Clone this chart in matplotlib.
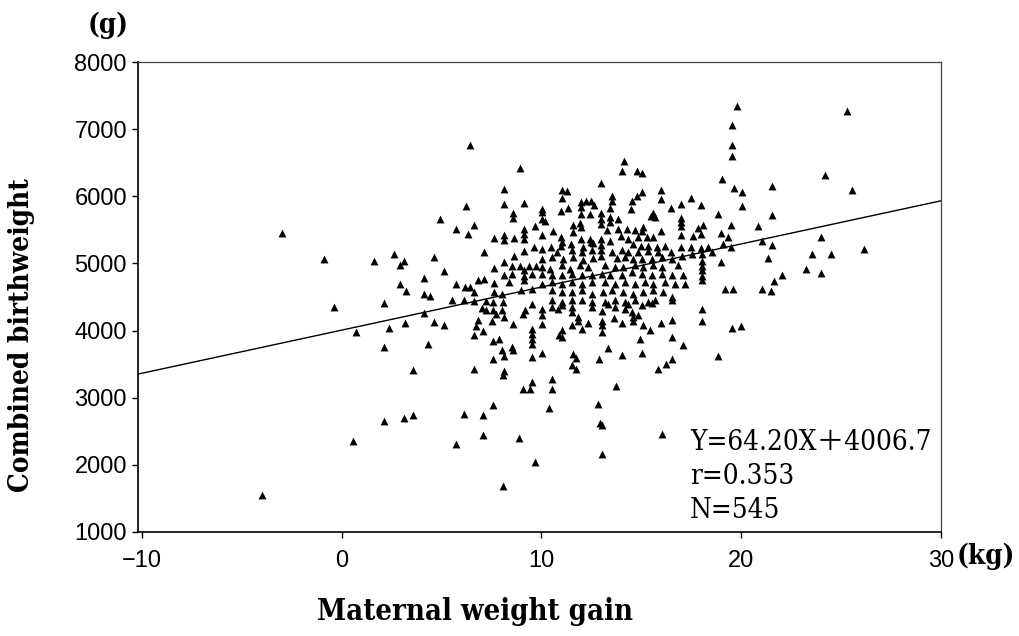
import matplotlib
matplotlib.use("Agg")
import matplotlib.pyplot as plt

# ---------------- data ----------------
weight_gain = [
    -3.0, -0.9, -0.4, -4.0,
    6.4, 8.9, 8.1, 8.1, 9.1, 6.2, 8.55, 8.55, 4.9, 5.7, 6.6, 6.3, 9.65, 9.1, 9.1, 9.1,
    8.1, 8.1, 7.6, 8.6, 9.6, 9.1, 7.1, 8.6, 4.6, 2.6, 1.6, 3.1, 2.9, 8.1, 8.5, 8.9,
    9.35, 9.7, 7.6, 5.1, 9.1, 9.1, 9.1, 8.1, 8.5, 9.5, 4.1, 8.35, 7.6, 5.7, 2.9, 6.8,
    7.1, 6.15, 6.4, 6.6, 8.95, 9.5, 3.2, 4.1, 4.4, 7.6, 8.0, 2.1, 5.5, 6.1, 6.6, 7.2,
    7.55, 8.05, 9.5,
    7.0, 7.2, 7.55, 8.0, 7.7, 8.1, 9.15, 9.05, 4.1, 0.7, 2.35, 3.15, 4.6, 5.1, 6.8,
    6.7, 7.5, 8.55, 7.05, 6.6, 9.5, 9.5, 9.5, 9.5, 2.1, 4.3, 7.55, 7.85, 8.0, 8.1,
    8.5, 8.55, 7.55, 9.5, 3.55, 6.6, 8.1, 8.05, 9.5, 9.05, 9.4, 7.55, 6.1, 7.05, 3.55,
    3.1, 2.1, 0.55, 5.7, 7.05, 8.85, 9.65, 8.05,
    19.55, 19.55, 19.55, 14.15, 14.05, 14.8, 15.05, 19.05, 13.0, 19.65, 11.05, 11.27,
    11.05, 15.05, 14.8, 14.55, 16.0, 16.0, 13.55, 13.55, 17.5, 12.0, 12.23, 12.5,
    12.65, 12.0, 17.0, 18.0, 16.5, 14.5, 10.05, 10.05, 11.0, 11.35, 13.43, 13.0,
    12.43, 12.0, 15.6, 15.7, 15.5, 18.85, 10.05, 10.2, 13.0, 13.43, 13.85, 13.0,
    13.43, 17.0, 17.0, 17.0, 11.93, 12.0, 11.6, 17.85, 18.1, 19.5, 10.6, 10.05,
    13.27, 13.85, 14.27, 14.68, 15.1, 15.02, 16.0, 11.6, 17.0, 17.6, 18.0, 19.0,
    19.35, 11.0, 11.05, 12.0, 12.43, 13.43, 12.6, 14.0, 14.35, 14.85, 15.27, 15.6,
    13.0, 13.0, 13.0, 13.0, 10.05, 10.5, 11.0, 11.5, 12.1, 12.5, 14.6, 15.0, 15.35,
    15.77, 16.18, 16.5, 17.0, 17.5, 18.0, 18.35, 19.1, 19.5,
    10.77, 11.52, 12.02, 12.52, 13.52, 14.02, 14.35, 14.85, 15.35, 15.85,
    10.05, 10.52, 11.1, 11.6, 12.1, 12.6, 13.77, 14.18, 14.6, 15.02, 15.52, 16.02,
    16.52, 17.02, 17.52, 18.52, 18.02,
    19.0, 18.02, 18.02, 18.02, 18.02, 18.02,
    10.05, 10.43, 11.02, 11.43, 11.93, 12.35, 13.18, 13.68, 14.1, 14.68, 15.1, 15.6,
    16.02, 16.85,
    10.05, 10.52, 11.02, 11.52, 12.02, 12.52, 13.02, 13.43, 14.02, 14.52, 15.02,
    15.52, 16.02, 16.52, 17.1,
    10.05, 10.52, 11.02, 11.52, 12.02, 12.52, 13.18, 13.68, 14.18, 14.68, 15.18,
    15.6, 16.18, 16.68, 17.18,
    10.52, 11.02, 11.52, 12.02, 12.52, 13.1, 13.52, 14.1, 14.6, 15.1, 15.6, 16.1, 16.52,
    19.18, 19.6,
    10.52, 11.02, 12.02, 12.52, 13.18, 13.68, 14.18, 14.68, 15.35, 15.68,
    16.52, 11.52, 14.35, 13.35, 11.52, 12.52, 13.68,
    10.05, 10.05, 10.05, 10.52, 10.85, 11.02, 11.52, 11.82, 11.82, 11.52, 12.02,
    12.35, 11.02, 10.88, 11.02, 13.02, 13.02, 13.02, 13.02, 13.65, 14.02, 14.18,
    14.52, 14.6, 14.6, 14.85, 15.1, 15.02, 15.52, 15.43, 14.93, 15.98, 16.52, 16.52,
    18.05, 18.05, 19.52, 17.1, 13.32, 10.05, 11.6, 11.72, 11.52, 11.72, 12.9, 14.02,
    15.02, 16.52, 16.22, 15.82, 18.82, 10.52, 10.52, 13.72, 10.4, 12.82, 12.93,
    13.02, 13.02, 16.02,
    19.8, 25.27, 24.18, 25.55, 21.55, 20.05, 20.05, 21.55, 20.85, 21.05, 21.55,
    23.98, 23.52, 24.48, 26.15, 21.35, 23.22, 23.98, 22.02, 21.65, 21.02, 21.48,
    19.98,
]

birthweight = [
    5450, 5070, 4350, 1550,
    6765, 6418, 6110, 5887, 5902, 5862, 5749, 5679, 5664, 5520, 5575, 5441, 5555, 5515, 5441, 5366,
    5430, 5356, 5377, 5377, 5252, 5183, 5177, 5109, 5094, 5147, 5043, 5043, 4984, 5019, 4969, 4969,
    4969, 4969, 4930, 4880, 4895, 4820, 4746, 4835, 4845, 4845, 4786, 4722, 4712, 4701, 4692, 4752,
    4771, 4647, 4647, 4573, 4597, 4622, 4588, 4538, 4508, 4573, 4548, 4414, 4448, 4448, 4433, 4433,
    4420, 4420, 4399,
    4335, 4300, 4300, 4300, 4250, 4201, 4300, 4250, 4265, 3978, 4037, 4116, 4127, 4077, 4151,
    4067, 4136, 4101, 3987, 3927, 4027, 3953, 3878, 3804, 3755, 3804, 3838, 3878, 3704, 3621,
    3755, 3704, 3581, 3606, 3417, 3421, 3392, 3343, 3234, 3134, 3134, 2896, 2762, 2747, 2747,
    2698, 2648, 2350, 2316, 2440, 2400, 2043, 1681,
    7063, 6765, 6606, 6531, 6374, 6374, 6344, 6259, 6200, 6121, 6100, 6085,
    5972, 6070, 6002, 5936, 6100, 5961, 6002, 5936, 5976, 5912, 5936, 5936,
    5872, 5847, 5887, 5872, 5823, 5813, 5813, 5763, 5788, 5823, 5823, 5753,
    5738, 5738, 5753, 5689, 5704, 5738, 5664, 5639, 5664, 5689, 5664, 5590,
    5615, 5674, 5615, 5555, 5604, 5540, 5575, 5525, 5575, 5575, 5490, 5426,
    5505, 5515, 5515, 5505, 5540, 5490, 5490, 5466, 5426, 5406, 5441, 5456,
    5392, 5392, 5317, 5366, 5366, 5341, 5307, 5406, 5366, 5392, 5392, 5392,
    5366, 5277, 5193, 5118, 5217, 5242, 5267, 5292, 5242, 5326, 5292, 5267, 5257,
    5242, 5267, 5168, 5242, 5242, 5228, 5242, 5292, 5242,
    5168, 5193, 5168, 5193, 5168, 5193, 5168, 5168, 5178, 5168,
    5069, 5094, 5069, 5094, 5044, 5079, 5079, 5094, 5069, 5069, 5069, 5094,
    5069, 5118, 5143, 5168, 5143,
    5019, 5043, 4969, 4895, 4820, 4746,
    4945, 4920, 4970, 4920, 4970, 4945, 4970, 4945, 4945, 4970, 4945, 4970,
    4945, 4970,
    4846, 4821, 4821, 4846, 4821, 4821, 4846, 4821, 4831, 4870, 4846,
    4821, 4846, 4821, 4821,
    4697, 4722, 4697, 4722, 4697, 4722, 4722, 4697, 4722, 4697, 4722,
    4697, 4722, 4697, 4697,
    4598, 4573, 4573, 4598, 4548, 4573, 4598, 4573, 4548, 4573, 4598, 4573, 4498,
    4622, 4622,
    4449, 4424, 4449, 4424, 4424, 4449, 4424, 4449, 4424, 4449,
    4448, 4448, 4399, 4399, 4350, 4350, 4350,
    4325, 4225, 4101, 4350, 4325, 4374, 4275, 4201, 4136, 4077, 4027,
    4116, 4002, 3927, 3904, 4285, 4136, 4077, 3978, 4186, 4116, 4325,
    4275, 4201, 4136, 4235, 4077, 4374, 4414, 4002, 3878, 4116, 4151, 3904,
    4315, 4136, 4037, 3789, 3740, 3670, 3655, 3591, 3481, 3421, 3581, 3640,
    3670, 3581, 3506, 3421, 3621, 3283, 3124, 3169, 2847, 2911, 2628,
    2598, 2167, 2454,
    7350, 7275, 6323, 6100, 6150, 6070, 5862, 5728, 5555, 5341, 5277,
    5401, 5133, 5133, 5217, 5084, 4920, 4856, 4831, 4731, 4622, 4588,
    4067,
]

slope = 64.20
intercept = 4006.7
line_x = [-10.3, 30.0]

x_ticks = [-10, 0, 10, 20, 30]
x_ticklabels = ["\u221210", "0", "10", "20", "30"]
y_ticks = [1000, 2000, 3000, 4000, 5000, 6000, 7000, 8000]
y_ticklabels = ["1000", "2000", "3000", "4000", "5000", "6000", "7000", "8000"]

stats_lines = ["Y=64.20X\uff0b4006.7", "r=0.353", "N=545"]

# ---------------- figure ----------------
W, H = 1019, 636
fig = plt.figure(figsize=(W / 100, H / 100), dpi=100)
ax = fig.add_axes([138 / W, 1 - 532 / H, (941 - 138) / W, (532 - 62) / H])

ax.scatter(weight_gain, birthweight, marker="^", s=32, color="black",
           linewidths=0, zorder=3)
ax.plot(line_x, [slope * v + intercept for v in line_x], color="black",
        linewidth=1.0, zorder=2)

ax.set_xlim(-10.2, 29.95)
ax.set_ylim(1000, 8000)
ax.set_xticks(x_ticks)
ax.set_xticklabels(x_ticklabels)
ax.set_yticks(y_ticks)
ax.set_yticklabels(y_ticklabels)

for lab in ax.get_xticklabels() + ax.get_yticklabels():
    lab.set_fontfamily("Liberation Sans")
    lab.set_fontsize(17)
ax.tick_params(axis="x", direction="out", length=4, width=1, pad=9)
ax.tick_params(axis="y", direction="out", length=4, width=1, pad=4)

for side in ("left", "bottom"):
    ax.spines[side].set_linewidth(1.2)
    ax.spines[side].set_color("black")
for side in ("top", "right"):
    ax.spines[side].set_linewidth(0.9)
    ax.spines[side].set_color("#444444")

serif = ["DejaVu Serif", "Noto Sans CJK JP"]
lab_kw = dict(family=serif, stretch="condensed", weight="bold")
fig.text(475 / W, 1 - 612 / H, "Maternal weight gain", fontsize=21,
         ha="center", va="center", **lab_kw)
fig.text(22 / W, 1 - 335 / H, "Combined birthweight", fontsize=20,
         ha="center", va="center", rotation=90, **lab_kw)
fig.text(108 / W, 1 - 25 / H, "(g)", fontsize=20, ha="center", va="center",
         **lab_kw)
fig.text(957 / W, 1 - 556 / H, "(kg)", fontsize=20, ha="left", va="center",
         **lab_kw)

for i, t in enumerate(stats_lines):
    fig.text(690 / W, 1 - (442 + i * 34.5) / H, t, fontsize=20,
             family=serif, stretch="condensed", ha="left", va="center")

fig.savefig("out.png", dpi=100)
